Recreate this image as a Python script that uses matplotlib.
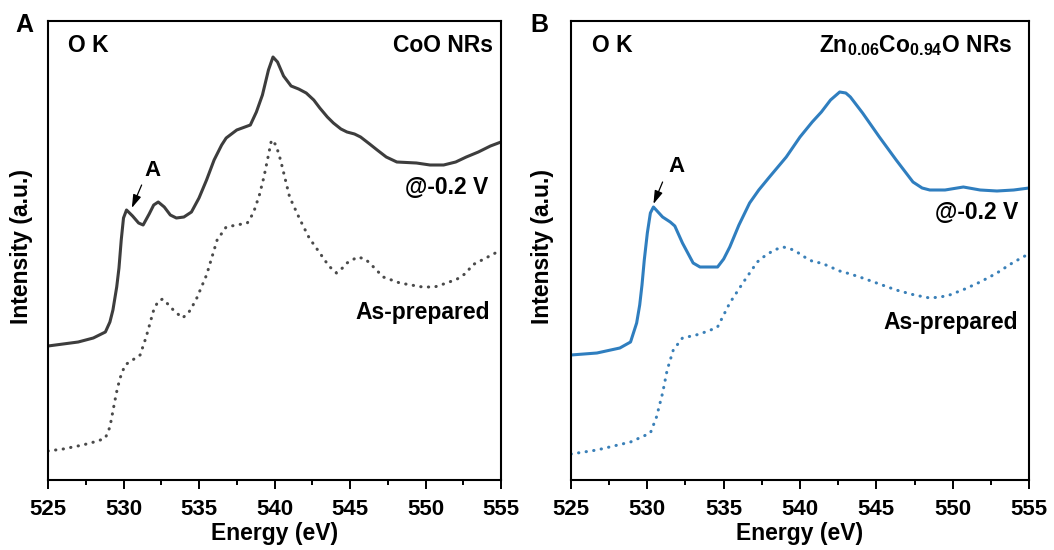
import matplotlib
matplotlib.use("Agg")
import matplotlib.pyplot as plt
from matplotlib.ticker import MultipleLocator

plt.rcParams['font.family'] = ['Liberation Sans', 'DejaVu Sans']
plt.rcParams['font.weight'] = 'bold'
plt.rcParams['mathtext.fontset'] = 'custom'
plt.rcParams['mathtext.bf'] = 'Liberation Sans:bold'
plt.rcParams['mathtext.rm'] = 'Liberation Sans:bold'
plt.rcParams['mathtext.default'] = 'bf'

# ---- Panel A: CoO NRs ----
a_solid_e = [525, 526, 527, 528, 528.8, 529.1, 529.3, 529.55, 529.7, 529.85, 530.0, 530.2, 530.6, 531.0,
             531.3, 531.7, 532.0, 532.3, 532.7, 533.1, 533.5, 534.0, 534.5, 535.0, 535.5, 536.0, 536.5,
             536.8, 537.5, 538.4, 538.8, 539.2, 539.6, 539.9, 540.2, 540.6, 541.1, 541.6, 542.1, 542.6,
             543.0, 543.5, 543.9, 544.4, 544.8, 545.3, 545.7, 546.3, 546.8, 547.4, 548.1, 549.4, 550.3,
             551.2, 552.0, 552.7, 553.5, 554.3, 555.0]
a_solid_i = [134, 136, 138, 142, 148, 158, 170, 193, 212, 240, 262, 270, 264, 257,
             255, 266, 275, 278, 273, 265, 262, 263, 268, 282, 300, 320, 335,
             342, 350, 355, 368, 385, 410, 423, 418, 404, 394, 391, 387, 380,
             372, 363, 357, 351, 348, 346, 343, 336, 330, 323, 318, 317, 315,
             315, 318, 323, 328, 334, 338]

a_dot_e = [525, 526, 527.3, 528.3, 528.8, 529.1, 529.4, 529.6, 529.8, 530.1, 530.6, 531.1, 531.5, 532.0,
           532.3, 532.6, 533.0, 533.3, 533.9, 534.3, 534.8, 535.5, 536.2, 536.8, 537.5, 538.2, 538.6,
           539.0, 539.3, 539.6, 539.8, 540.1, 540.4, 541.0, 541.7, 542.3, 543.0, 543.6, 544.1, 544.5,
           544.8, 545.5, 546.0, 546.3, 547.2, 548.3, 549.8, 550.6, 551.4, 552.1, 552.7, 553.1, 554.0, 555.0]
a_dot_i = [29, 31, 35, 39, 42, 53, 77, 92, 103, 115, 120, 125, 143, 170,
           179, 181, 175, 170, 162, 167, 180, 205, 240, 253, 255, 257, 267,
           285, 303, 325, 340, 335, 320, 283, 260, 242, 227, 214, 207, 212,
           217, 223, 221, 217, 203, 197, 193, 193, 197, 201, 207, 215, 222, 230]

# ---- Panel B: Zn0.06Co0.94O NRs ----
b_solid_e = [525, 526.7, 528.2, 528.9, 529.3, 529.5, 529.65, 529.8, 530.0, 530.2, 530.4, 531.0, 531.5,
             531.8, 532.3, 533.0, 533.45, 534.6, 535.0, 535.4, 536.0, 536.7, 537.3, 538.0, 539.1, 540.0,
             540.8, 541.4, 542.0, 542.6, 543.0, 543.3, 544.1, 545.2, 546.3, 547.4, 548.0, 548.5, 549.5,
             550.7, 551.8, 552.9, 554.0, 555.0]
b_solid_i = [125, 127, 132, 138, 157, 175, 195, 220, 247, 267, 273, 263, 258,
             254, 237, 217, 213, 213, 221, 233, 255, 277, 290, 303, 323, 343,
             358, 368, 380, 388, 387, 383, 367, 343, 320, 298, 292, 290, 290,
             293, 290, 289, 290, 292]

b_dot_e = [525, 526.7, 528.9, 530.2, 530.6, 531.0, 531.3, 531.7, 532.3, 533.2, 534.0, 534.6, 535.4,
           536.3, 537.2, 537.6, 538.3, 538.9, 539.4, 539.8, 540.4, 540.9, 541.4, 542.0, 542.6, 543.3,
           544.1, 545.2, 546.3, 547.5, 548.5, 549.2, 549.8, 550.8, 551.8, 552.9, 553.8, 554.6, 555.0]
b_dot_i = [26, 30, 38, 47, 63, 87, 110, 130, 142, 145, 149, 153, 177,
           198, 218, 223, 230, 233, 231, 228, 222, 218, 217, 213, 209, 206,
           202, 196, 190, 185, 182, 183, 185, 191, 198, 207, 216, 223, 226]

x_ticks = [525, 530, 535, 540, 545, 550, 555]

fig = plt.figure(figsize=(10.54, 5.5), dpi=100)
axA = fig.add_axes([48/1054, 70/550, 453/1054, 459/550])
axB = fig.add_axes([571/1054, 70/550, 458/1054, 459/550])

gray = '#3d3d3d'
blue = '#2f7ebf'
dotstyle = (0, (0.1, 2.4))

axA.plot(a_solid_e, a_solid_i, color=gray, lw=2.2, solid_joinstyle='round')
axA.plot(a_dot_e, a_dot_i, color='#4a4a4a', lw=2.2, linestyle=dotstyle, dash_capstyle='round')
axB.plot(b_solid_e, b_solid_i, color=blue, lw=2.2, solid_joinstyle='round')
axB.plot(b_dot_e, b_dot_i, color='#3a80b8', lw=2.2, linestyle=dotstyle, dash_capstyle='round')

for ax in (axA, axB):
    ax.set_xlim(525, 555)
    ax.set_ylim(0, 459)
    ax.set_xticks(x_ticks)
    ax.xaxis.set_minor_locator(MultipleLocator(2.5))
    ax.set_yticks([])
    ax.tick_params(axis='x', which='major', length=6.5, width=1.4, direction='out', labelsize=16, pad=7.5)
    ax.tick_params(axis='x', which='minor', length=3.6, width=1.4, direction='out')
    for s in ax.spines.values():
        s.set_linewidth(1.5)
    ax.set_xlabel('Energy (eV)', fontsize=16.5, fontweight='bold', labelpad=1)
    ax.text(0.045, 0.946, 'O K', transform=ax.transAxes, fontsize=16.5, fontweight='bold',
            ha='left', va='center')

arrow_kw = dict(arrowstyle='-|>,head_length=0.8,head_width=0.25', color='black', lw=0.9,
                mutation_scale=10, shrinkA=0, shrinkB=0)

axA.text(0.982, 0.946, 'CoO NRs', transform=axA.transAxes, fontsize=16.5, fontweight='bold',
         ha='right', va='center')
axA.text(0.971, 0.638, '@-0.2 V', transform=axA.transAxes, fontsize=16.5, fontweight='bold',
         ha='right', va='center')
axA.text(0.976, 0.366, 'As-prepared', transform=axA.transAxes, fontsize=16.5, fontweight='bold',
         ha='right', va='center')
axA.annotate('', xy=(530.55, 272), xytext=(531.2, 295), arrowprops=arrow_kw)
axA.text(531.95, 310, 'A', fontsize=16, fontweight='bold', ha='center', va='center')

axB.text(0.963, 0.946, r'Zn$_{0.06}$Co$_{0.94}$O NRs', transform=axB.transAxes, fontsize=16.5,
         fontweight='bold', ha='right', va='center')
axB.text(0.976, 0.582, '@-0.2 V', transform=axB.transAxes, fontsize=16.5, fontweight='bold',
         ha='right', va='center')
axB.text(0.976, 0.344, 'As-prepared', transform=axB.transAxes, fontsize=16.5, fontweight='bold',
         ha='right', va='center')
axB.annotate('', xy=(530.4, 276), xytext=(531.0, 298), arrowprops=arrow_kw)
axB.text(531.9, 313, 'A', fontsize=16, fontweight='bold', ha='center', va='center')

fig.text(22/1054, 1 - 246/550, 'Intensity (a.u.)', rotation=90, fontsize=16.5, fontweight='bold',
         ha='center', va='center')
fig.text(542/1054, 1 - 246/550, 'Intensity (a.u.)', rotation=90, fontsize=16.5, fontweight='bold',
         ha='center', va='center')
fig.text(24/1054, 1 - 25/550, 'A', fontsize=18, fontweight='bold', ha='center', va='center')
fig.text(539/1054, 1 - 25/550, 'B', fontsize=18, fontweight='bold', ha='center', va='center')

fig.savefig('out.png', dpi=100)
